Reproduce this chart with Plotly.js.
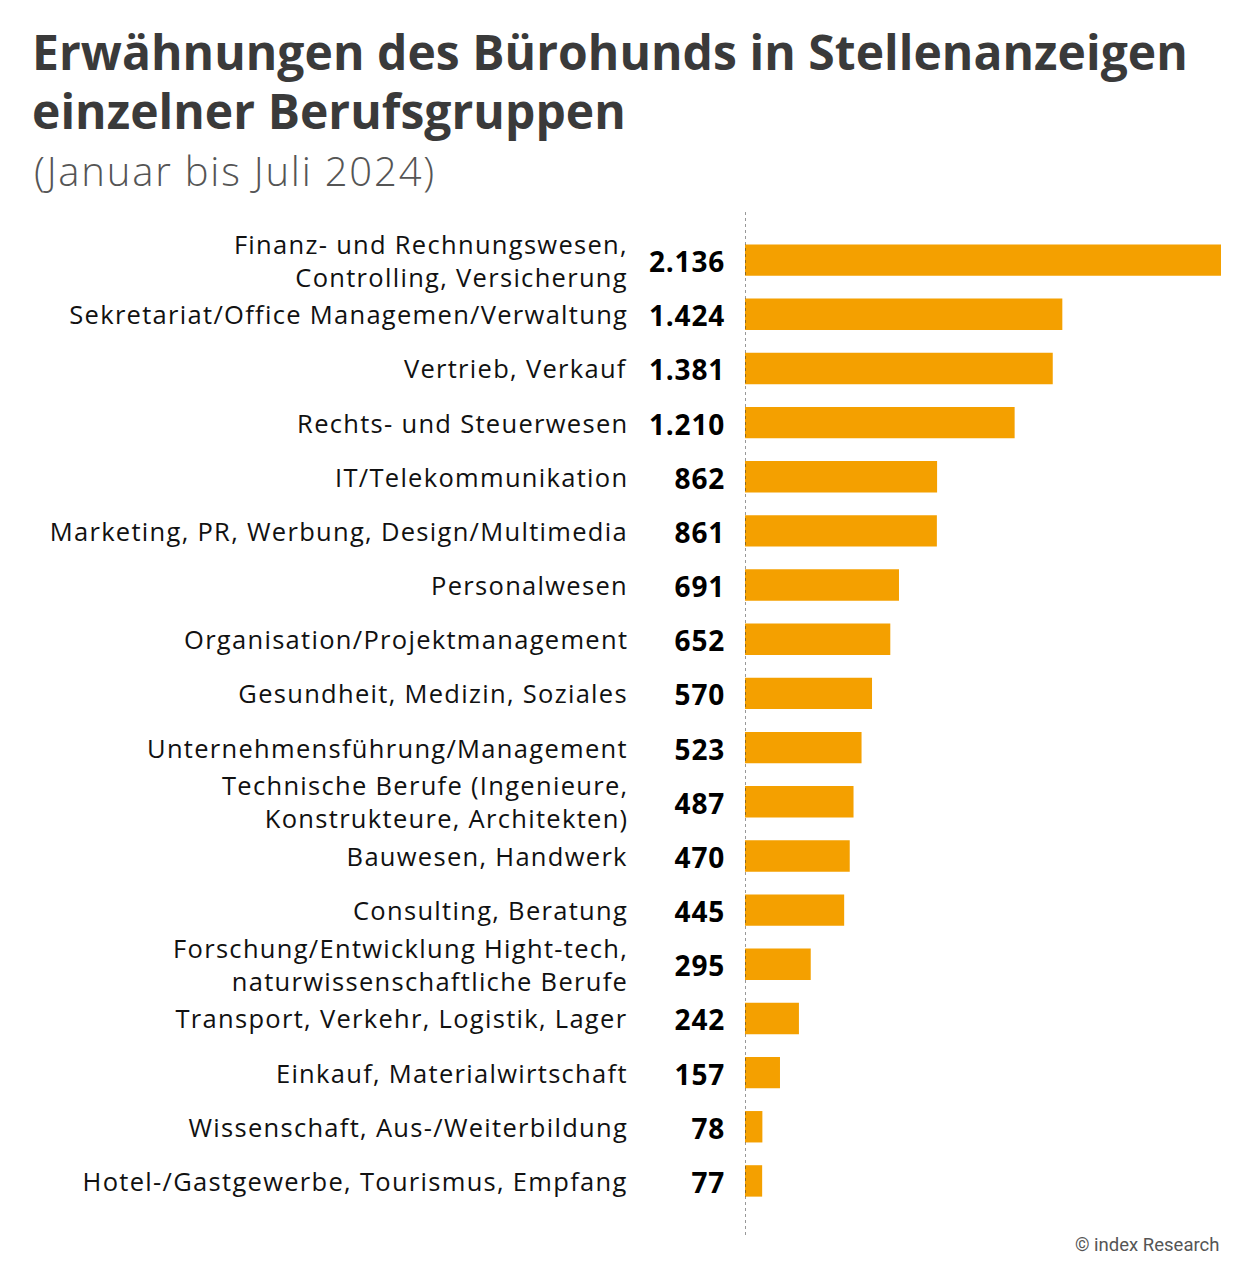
<!DOCTYPE html>
<html>
<head>
<meta charset="utf-8">
<script src="https://cdn.plot.ly/plotly-3.0.1.min.js"></script>
<style>html,body{margin:0;padding:0;background:#fff;}#chart{width:1250px;height:1277px;}</style>
</head>
<body>
<div id="chart"></div>
<script>
const categories = [
  "Finanz- und Rechnungswesen,<br>Controlling, Versicherung",
  "Sekretariat/Office Managemen/Verwaltung",
  "Vertrieb, Verkauf",
  "Rechts- und Steuerwesen",
  "IT/Telekommunikation",
  "Marketing, PR, Werbung, Design/Multimedia",
  "Personalwesen",
  "Organisation/Projektmanagement",
  "Gesundheit, Medizin, Soziales",
  "Unternehmensführung/Management",
  "Technische Berufe (Ingenieure,<br>Konstrukteure, Architekten)",
  "Bauwesen, Handwerk",
  "Consulting, Beratung",
  "Forschung/Entwicklung Hight-tech,<br>naturwissenschaftliche Berufe",
  "Transport, Verkehr, Logistik, Lager",
  "Einkauf, Materialwirtschaft",
  "Wissenschaft, Aus-/Weiterbildung",
  "Hotel-/Gastgewerbe, Tourismus, Empfang"
];
const values = [2136, 1424, 1381, 1210, 862, 861, 691, 652, 570, 523, 487, 470, 445, 295, 242, 157, 78, 77];
const valueLabels = ["2.136", "1.424", "1.381", "1.210", "862", "861", "691", "652", "570", "523", "487", "470", "445", "295", "242", "157", "78", "77"];
const titleLines = ["Erwähnungen des Bürohunds in Stellenanzeigen", "einzelner Berufsgruppen"];
const subtitle = "(Januar bis Juli 2024)";
const source = "© index Research";

const ids = categories.map((c, i) => "c" + i);
const FONT = "'Open Sans', sans-serif";

const annotations = [];
const spacing = [];
function add(a, ls) { spacing.push([annotations.length, ls]); annotations.push(a); }

ids.forEach((id, i) => {
  add({
    x: 0, xref: "x", y: id, yref: "y",
    text: categories[i], showarrow: false,
    xanchor: "right", yanchor: "middle", align: "right",
    xshift: -115,
    font: {family: FONT, size: 25.5, color: "#111"}
  }, 1.3);
  add({
    x: 0, xref: "x", y: id, yref: "y",
    text: "<b>" + valueLabels[i] + "</b>", showarrow: false,
    xanchor: "right", yanchor: "middle", align: "right",
    xshift: -18, yshift: -1,
    font: {family: FONT, size: 28, color: "#000"}
  }, 0.8);
});
add({
  xref: "paper", yref: "paper", x: -1.502, y: 1.1866,
  xanchor: "left", yanchor: "middle", align: "left",
  text: "<b>" + titleLines[0] + "</b>", showarrow: false,
  font: {family: FONT, size: 48, color: "#3a3a3a"}
}, 0.05);
add({
  xref: "paper", yref: "paper", x: -1.502, y: 1.1261,
  xanchor: "left", yanchor: "middle", align: "left",
  text: "<b>" + titleLines[1] + "</b>", showarrow: false,
  font: {family: FONT, size: 48, color: "#3a3a3a"}
}, 0.05);
add({
  xref: "paper", yref: "paper", x: -1.498, y: 1.0646,
  xanchor: "left", yanchor: "middle", align: "left",
  text: subtitle, showarrow: false,
  font: {family: FONT, size: 40, color: "#555", weight: 300}
}, 1.8);
add({
  xref: "paper", yref: "paper", x: 1.0, y: -0.038,
  xanchor: "right", yanchor: "middle", align: "right",
  text: source, showarrow: false,
  font: {family: "Roboto, sans-serif", size: 18.5, color: "#555"}
}, 0);

const css = spacing.map(([i, ls]) =>
  `#chart .annotation[data-index="${i}"] .annotation-text{letter-spacing:${ls}px;}`).join("\n");
const styleEl = document.createElement("style");
styleEl.textContent = css;
document.head.appendChild(styleEl);

const data = [{
  type: "bar", orientation: "h",
  x: values, y: ids,
  marker: {color: "#F4A000"},
  width: 0.58,
  hoverinfo: "skip"
}];

const layout = {
  width: 1250, height: 1277,
  paper_bgcolor: "#fff", plot_bgcolor: "#fff",
  margin: {l: 745, r: 29, t: 233, b: 69},
  showlegend: false,
  xaxis: {range: [0, 2136], visible: false, fixedrange: true},
  yaxis: {range: [17.5, -0.5], showticklabels: false, showgrid: false, zeroline: false, ticks: "", fixedrange: true},
  shapes: [{
    type: "line", xref: "x", yref: "paper", x0: 0, x1: 0, y0: -0.0277, y1: 1.0215,
    line: {color: "#333", width: 1, dash: "dot"}
  }],
  annotations: annotations
};

Plotly.newPlot("chart", data, layout, {displayModeBar: false, staticPlot: true});
</script>
</body>
</html>
